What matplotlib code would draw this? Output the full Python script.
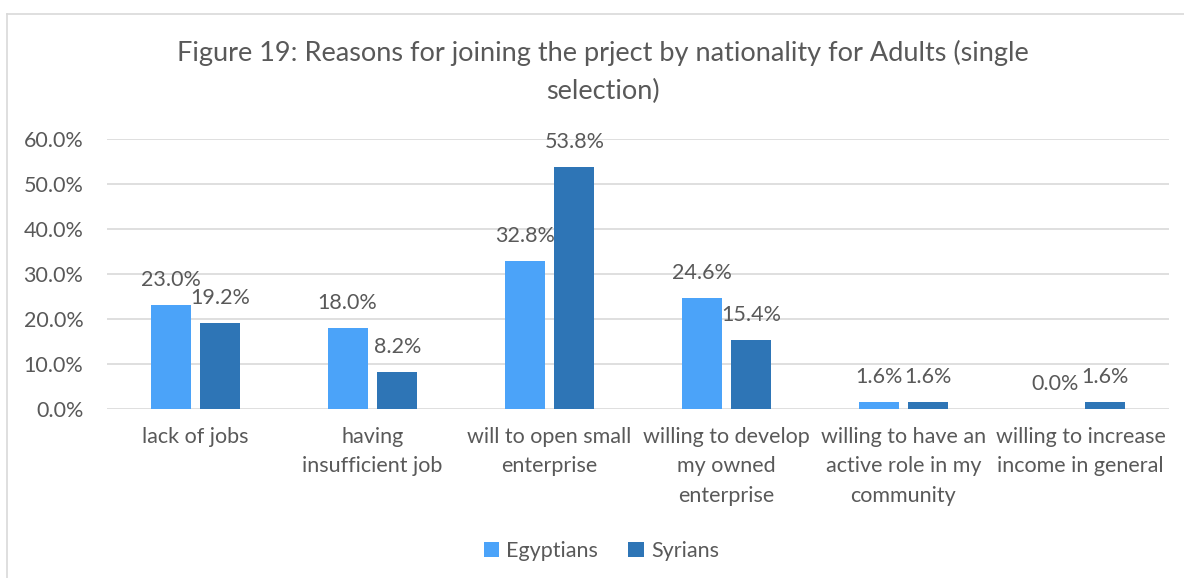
import numpy as np
import matplotlib
matplotlib.use('Agg')
import matplotlib.pyplot as plt
from matplotlib.ticker import FuncFormatter

###############################################################################
# data
categories = ['lack of jobs',
              'having\ninsufficient job',
              'will to open small\nenterprise',
              'willing to develop\nmy owned\nenterprise',
              'willing to have an\nactive role in my\ncommunity',
              'willing to increase\nincome in general']
egyptians = [0.230, 0.180, 0.328, 0.246, 0.016, 0.000]
syrians = [0.192, 0.082, 0.538, 0.154, 0.016, 0.016]
yticks = [0.0, 0.1, 0.2, 0.3, 0.4, 0.5, 0.6]

title = ('Figure 19: Reasons for joining the prject by nationality for Adults (single\n'
         'selection)')

###############################################################################
plt.rcParams['font.family'] = ['Lato', 'DejaVu Sans']
txt = '#595959'
c_egy = '#4ba3f9'
c_syr = '#2e75b6'
fs = 15.5

fig = plt.figure(figsize=(11.84, 5.78), dpi=100)
ax = fig.add_axes([0.0904, 0.2924, 0.8969, 0.4671])

x = np.arange(len(categories))
w = 0.226
gap = 0.056
off = (w + gap) / 2

b1 = ax.bar(x - off, egyptians, w, color=c_egy, label='Egyptians', zorder=3)
b2 = ax.bar(x + off, syrians, w, color=c_syr, label='Syrians', zorder=3)

for bars, vals in ((b1, egyptians), (b2, syrians)):
    for b, v in zip(bars, vals):
        ax.annotate('%.1f%%' % (v * 100),
                    (b.get_x() + b.get_width() / 2, v),
                    xytext=(0, 18), textcoords='offset points',
                    ha='center', va='center', fontsize=fs, color=txt)

ax.set_xlim(-0.5, len(categories) - 0.5)
ax.set_ylim(0, 0.6)
ax.set_yticks(yticks)
ax.yaxis.set_major_formatter(FuncFormatter(lambda v, p: '%.1f%%' % (v * 100)))
ax.yaxis.grid(True, color='#d9d9d9', linewidth=1.2, zorder=0)
ax.set_axisbelow(True)
for s in ax.spines.values():
    s.set_visible(False)

ax.set_xticks(x)
ax.set_xticklabels(categories, fontsize=fs, color=txt, linespacing=1.58, va='top')
ax.tick_params(axis='x', length=0, pad=13)
ax.tick_params(axis='y', length=0, pad=17, labelsize=fs, labelcolor=txt)

fig.text(0.509, 0.875, title, ha='center', va='center', fontsize=19.5,
         color=txt, linespacing=1.65)

fig.legend(loc='center', bbox_to_anchor=(0.508, 0.046), ncol=2, frameon=False,
           fontsize=fs, labelcolor=txt, handlelength=0.7, handleheight=0.7,
           handletextpad=0.35, columnspacing=1.4)

# chart frame (top and left edge)
fig.add_artist(plt.Line2D([7 / 1184, 1], [1 - 14 / 578, 1 - 14 / 578],
                          color='#d9d9d9', linewidth=1.2))
fig.add_artist(plt.Line2D([7 / 1184, 7 / 1184], [0, 1 - 14 / 578],
                          color='#d9d9d9', linewidth=1.2))

fig.savefig('out.png', dpi=100, facecolor='white')
